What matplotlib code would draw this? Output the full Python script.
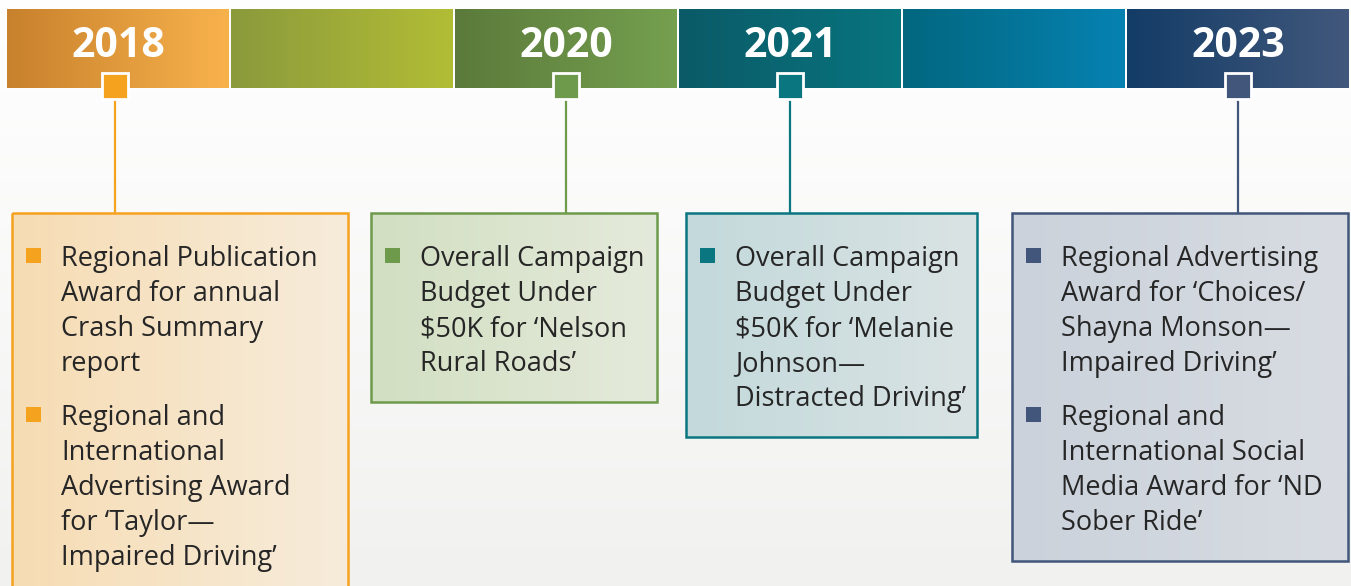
import numpy as np
import matplotlib
matplotlib.use("Agg")
import matplotlib.pyplot as plt
from matplotlib.colors import LinearSegmentedColormap
from matplotlib.patches import Rectangle

# banner segments (left colour, right colour) and their year labels
seg_years = ["2018", "", "2020", "2021", "", "2023"]
seg_left = ["#C8812C", "#8B9A3C", "#5B7A3B", "#0B5A67", "#02677F", "#133C66"]
seg_right = ["#F8B24C", "#B2BD35", "#75A04F", "#08757F", "#0682B2", "#42587C"]

# award boxes: which segment they hang from, colours, and text
box_seg = [0, 2, 3, 5]
box_marker = ["#F5A21F", "#6E9A4B", "#0A7680", "#41567A"]
box_fill_l = ["#F6DCB3", "#D2DFC2", "#C3D9DB", "#CBD2DB"]
box_fill_r = ["#F7ECDB", "#E4EADB", "#DAE3E4", "#D8DCE2"]
box_items = [
    [["Regional Publication", "Award for annual", "Crash Summary", "report"],
     ["Regional and", "International", "Advertising Award", "for \u2018Taylor\u2014",
      "Impaired Driving\u2019"]],
    [["Overall Campaign", "Budget Under", "$50K for \u2018Nelson", "Rural Roads\u2019"]],
    [["Overall Campaign", "Budget Under", "$50K for \u2018Melanie", "Johnson\u2014",
      "Distracted Driving\u2019"]],
    [["Regional Advertising", "Award for \u2018Choices/", "Shayna Monson\u2014",
      "Impaired Driving\u2019"],
     ["Regional and", "International Social", "Media Award for \u2018ND",
      "Sober Ride\u2019"]],
]

# layout (pixels)
W, H = 1351, 586
seg_x0, seg_w, seg_gap = 7, 222, 2
ban_top, ban_bot = 9, 88
box_lr = [(12, 348), (371, 657), (686, 977), (1012, 1348)]
box_top = 213
first_base, line_step, item_gap = 266, 35, 54

fig = plt.figure(figsize=(W / 100, H / 100), dpi=100)
ax = fig.add_axes([0, 0, 1, 1])
ax.set_xlim(0, W)
ax.set_ylim(H, 0)
ax.axis("off")


def grad(x0, x1, y0, y1, c0, c1, vertical=False, z=0):
    cm = LinearSegmentedColormap.from_list("g", [c0, c1])
    g = np.linspace(0, 1, 256)
    img = g.reshape(-1, 1) if vertical else g.reshape(1, -1)
    ax.imshow(img, cmap=cm, extent=(x0, x1, y1, y0), aspect="auto",
              interpolation="bicubic", zorder=z)


# background
grad(0, W, 0, H, "#FFFFFF", "#F1F2F0", vertical=True, z=0)

# banner
seg_cx = []
for i, yr in enumerate(seg_years):
    x0 = seg_x0 + i * (seg_w + seg_gap)
    grad(x0, x0 + seg_w, ban_top, ban_bot, seg_left[i], seg_right[i], z=1)
    seg_cx.append(x0 + seg_w / 2)
    if yr:
        ax.text(x0 + seg_w / 2, 57, yr, ha="center", va="baseline", color="white",
                fontsize=29.5, fontweight="bold", family="Open Sans", zorder=5)

# boxes
for b, items in enumerate(box_items):
    cx = seg_cx[box_seg[b]]
    if b == 0:
        cx -= 3
    col = box_marker[b]
    left, right = box_lr[b]
    base = first_base
    lines = []
    for k, item in enumerate(items):
        if k > 0:
            base += item_gap - line_step
        for j, ln in enumerate(item):
            lines.append((base, ln, j == 0))
            base += line_step
    bottom = lines[-1][0] + 31

    # connector and marker
    ax.plot([cx, cx], [95, box_top], color=col, lw=1.6, zorder=3, solid_capstyle="butt")
    ax.add_patch(Rectangle((cx - 13, 73), 26, 26, facecolor=col, edgecolor="white",
                           lw=2, zorder=4))

    grad(left, right, box_top, bottom, box_fill_l[b], box_fill_r[b], z=2)
    ax.add_patch(Rectangle((left, box_top), right - left, bottom - box_top,
                           facecolor="none", edgecolor=col, lw=1.8, zorder=3))
    for y, ln, bullet in lines:
        if bullet:
            ax.add_patch(Rectangle((left + 14, y - 18), 15, 15, facecolor=col,
                                   edgecolor="none", zorder=4))
        ax.text(left + 49, y, ln, ha="left", va="baseline", color="#262626",
                fontsize=19.5, family="Open Sans", zorder=5)

fig.savefig("out.png", dpi=100)
